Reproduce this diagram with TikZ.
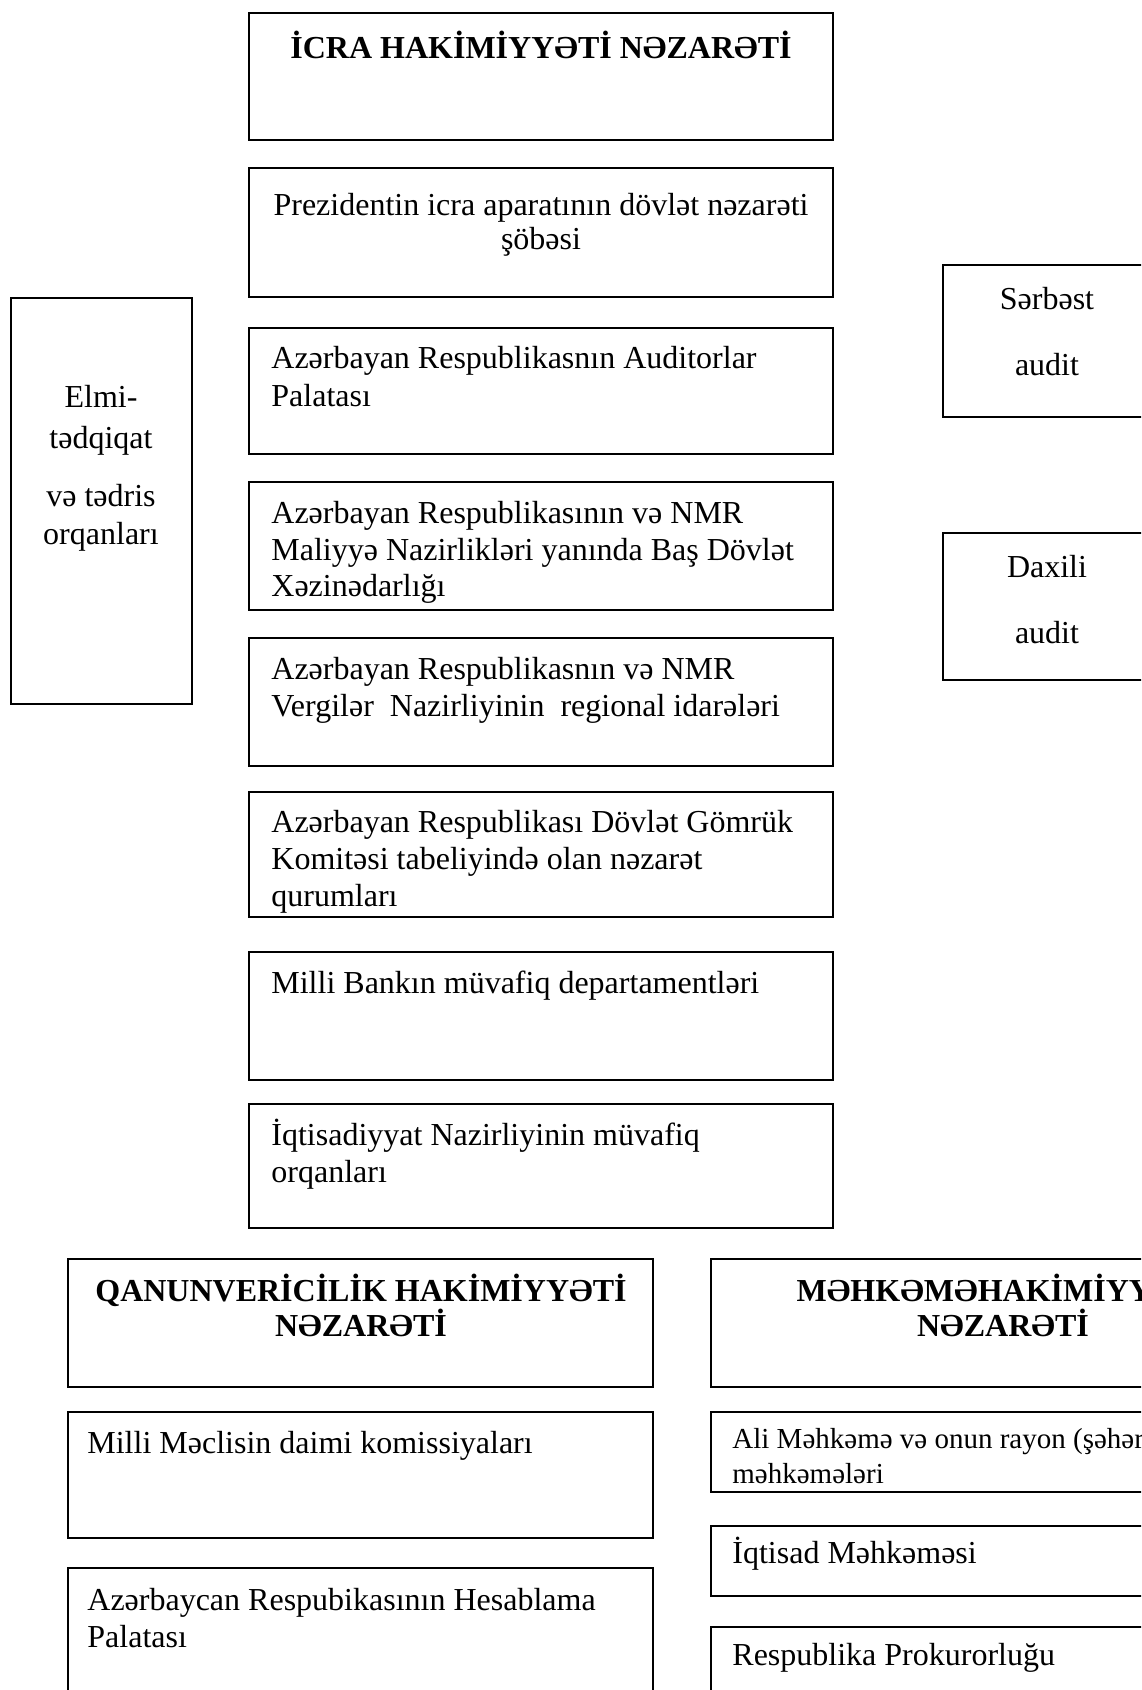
\documentclass[tikz,border=0pt]{standalone}
\usepackage{fontspec}
\setmainfont{Liberation Serif}
\usetikzlibrary{fit}
\tikzset{
  x=0.5pt, y=-0.5pt,
  box/.style={draw, line width=0.9pt, inner sep=0pt},
  txt/.style={inner sep=0pt, font=\fontsize{16}{18.4}\selectfont},
  lt/.style={txt, anchor=base west},
  ct/.style={txt, anchor=base},
  st/.style={inner sep=0pt, anchor=base west, font=\fontsize{14.5}{16.7}\selectfont},
  hd/.style={inner sep=0pt, anchor=base, font=\fontsize{16}{18.4}\selectfont\bfseries},
}
\begin{document}
\begin{tikzpicture}
\path[use as bounding box] (0,0) rectangle (1141,1690);
\clip (0,0) rectangle (1141,1690);

% central column (executive control)
\node[box, fit={(249,13) (833,140)}] (icra) {};
\node[hd] (icraT) at (541,59) {İCRA HAKİMİYYƏTİ NƏZARƏTİ};

\node[box, fit={(249,168) (833,297)}] (prez) {};
\node[ct] (prezA) at (541,216) {Prezidentin icra aparatının dövlət nəzarəti};
\node[ct] (prezB) at (541,250) {şöbəsi};

\node[box, fit={(249,328) (833,454)}] (aud) {};
\node[lt] (audA) at (271,369) {Azərbayan Respublikasnın Auditorlar};
\node[lt] (audB) at (271,406) {Palatası};

\node[box, fit={(249,482) (833,610)}] (xez) {};
\node[lt] (xezA) at (271,523) {Azərbayan Respublikasının və NMR};
\node[lt] (xezB) at (271,560) {Maliyyə Nazirlikləri yanında Baş Dövlət};
\node[lt] (xezC) at (271,596) {Xəzinədarlığı};

\node[box, fit={(249,638) (833,766)}] (verg) {};
\node[lt] (vergA) at (271,679) {Azərbayan Respublikasnın və NMR};
\node[lt] (vergB) at (271,716) {Vergilər\ \ Nazirliyinin\ \ regional idarələri};

\node[box, fit={(249,792) (833,917)}] (gom) {};
\node[lt] (gomA) at (271,832) {Azərbayan Respublikası Dövlət Gömrük};
\node[lt] (gomB) at (271,869) {Komitəsi tabeliyində olan nəzarət};
\node[lt] (gomC) at (271,906) {qurumları};

\node[box, fit={(249,952) (833,1080)}] (bank) {};
\node[lt] (bankA) at (271,993) {Milli Bankın müvafiq departamentləri};

\node[box, fit={(249,1104) (833,1228)}] (iqt) {};
\node[lt] (iqtA) at (271,1145) {İqtisadiyyat Nazirliyinin müvafiq};
\node[lt] (iqtB) at (271,1182) {orqanları};

% left box
\node[box, fit={(11,298) (192,704)}] (elmi) {};
\node[ct] (elmiA) at (101,408) {Elmi-};
\node[ct] (elmiB) at (101,448) {tədqiqat};
\node[ct] (elmiC) at (101,506) {və tədris};
\node[ct] (elmiD) at (101,544) {orqanları};

% right boxes
\node[box, fit={(943,265) (1160,417)}] (serb) {};
\node[ct] (serbA) at (1047,310) {Sərbəst};
\node[ct] (serbB) at (1047,375) {audit};

\node[box, fit={(943,533) (1160,680)}] (dax) {};
\node[ct] (daxA) at (1047,577) {Daxili};
\node[ct] (daxB) at (1047,643) {audit};

% legislative control
\node[box, fit={(68,1259) (653,1387)}] (qan) {};
\node[hd] (qanA) at (361,1301) {QANUNVERİCİLİK HAKİMİYYƏTİ};
\node[hd] (qanB) at (361,1336) {NƏZARƏTİ};

\node[box, fit={(68,1412) (653,1538)}] (mec) {};
\node[lt] (mecA) at (87,1453) {Milli Məclisin daimi komissiyaları};

\node[box, fit={(68,1568) (653,1720)}] (hes) {};
\node[lt] (hesA) at (87,1610) {Azərbaycan Respubikasının Hesablama};
\node[lt] (hesB) at (87,1647) {Palatası};

% judicial control
\node[box, fit={(711,1259) (1295,1387)}] (meh) {};
\node[hd] (mehA) at (1003,1301) {MƏHKƏMƏHAKİMİYYƏTİ};
\node[hd] (mehB) at (1003,1336) {NƏZARƏTİ};

\node[box, fit={(711,1412) (1295,1492)}] (ali) {};
\begin{scope}
\clip (711,1412) rectangle (1295,1484);
\node[st] (aliA) at (732,1448) {Ali Məhkəmə və onun rayon (şəhər)};
\node[st] (aliB) at (732,1483) {məhkəmələri};
\end{scope}

\node[box, fit={(711,1526) (1295,1596)}] (iqm) {};
\node[lt] (iqmA) at (732,1563) {İqtisad Məhkəməsi};

\node[box, fit={(711,1627) (1295,1720)}] (pro) {};
\node[lt] (proA) at (732,1665) {Respublika Prokurorluğu};
\end{tikzpicture}
\end{document}
